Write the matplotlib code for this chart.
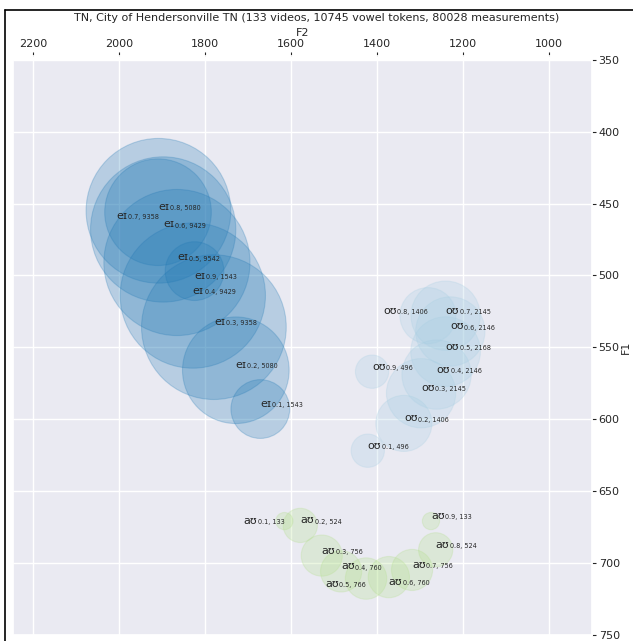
import matplotlib
matplotlib.use("Agg")
import matplotlib.pyplot as plt
import seaborn as sns
from matplotlib.lines import Line2D
from matplotlib.transforms import offset_copy

sns.set_theme(style="darkgrid")
plt.rcParams['font.family'] = ['DejaVu Sans']

# measurement points along the vowel (fraction of duration)
times = [0.1, 0.2, 0.3, 0.4, 0.5, 0.6, 0.7, 0.8, 0.9]

# eɪ
ei_f2 = [1672, 1729, 1780, 1829, 1866, 1898, 1909, 1910, 1825]
ei_f1 = [593, 566, 536, 514, 491, 468, 455, 456, 497]
ei_n = [1543, 5080, 9358, 9429, 9542, 9429, 9358, 5080, 1543]

# oʊ
ou_f2 = [1422, 1338, 1298, 1262, 1241, 1230, 1241, 1282, 1412]
ou_f1 = [622, 603, 582, 569, 553, 539, 528, 528, 567]
ou_n = [496, 1406, 2145, 2146, 2168, 2146, 2145, 1406, 496]

# aʊ
au_f2 = [1616, 1579, 1529, 1484, 1426, 1373, 1319, 1264, 1275]
au_f1 = [671, 674, 695, 706, 711, 710, 705, 691, 671]
au_n = [133, 524, 756, 760, 766, 760, 756, 524, 133]

# label placement (horizontal, vertical alignment) per point
ei_align = [("left", "bottom")] * 6 + [("right", "top"), ("left", "bottom"), ("left", "top")]
ou_align = [("left", "bottom")] * 7 + [("right", "bottom"), ("left", "bottom")]
au_align = [("right", "center"), ("left", "bottom"), ("left", "bottom"), ("left", "bottom"),
            ("right", "top"), ("left", "top"), ("left", "bottom"), ("left", "bottom"),
            ("left", "bottom")]

title = "TN, City of Hendersonville TN (133 videos, 10745 vowel tokens, 80028 measurements)"

series = [
    ("eɪ", ei_f2, ei_f1, ei_n, ei_align, "#1f78b4"),
    ("oʊ", ou_f2, ou_f1, ou_n, ou_align, "#a6cee3"),
    ("aʊ", au_f2, au_f1, au_n, au_align, "#b2df8a"),
]

MAIN_FS = 8
SUB_FS = 4.7
GAP = 0.4  # points between vowel and subscript

fig = plt.figure(figsize=(6.33, 6.41), dpi=100)
ax = fig.add_axes([0.0201, 0.010, 0.9147, 0.8965])
renderer = fig.canvas.get_renderer()

for vowel, f2, f1, n, align, col in series:
    ax.scatter(f2, f1, s=[c * 1.16 for c in n], color=col, alpha=0.25,
               edgecolors=col, linewidths=0.8, zorder=2)
    for x, y, t, c, (ha, va) in zip(f2, f1, times, n, align):
        sub = f"{t}, {c}"
        if ha == "left":
            tr = ax.transData
        else:
            # shift the vowel left by the subscript width so the label ends at the point
            probe = ax.text(0, 0, sub, fontsize=SUB_FS)
            w = probe.get_window_extent(renderer).width * 72 / fig.dpi + GAP
            probe.remove()
            tr = offset_copy(ax.transData, fig=fig, x=-w, y=0, units="points")
        main = ax.text(x, y, vowel, fontsize=MAIN_FS, ha=ha, va=va, transform=tr,
                       color="#262626", zorder=5)
        ax.annotate(sub, xy=(1, 0), xycoords=main, xytext=(GAP, 0.6),
                    textcoords="offset points", ha="left", va="bottom",
                    fontsize=SUB_FS, color="#262626", zorder=5)

ax.set_xlim(2248, 901)
ax.set_ylim(750, 350)
ax.set_xticks([2200, 2000, 1800, 1600, 1400, 1200, 1000])
ax.set_yticks([350, 400, 450, 500, 550, 600, 650, 700, 750])

ax.xaxis.tick_top()
ax.xaxis.set_label_position("top")
ax.yaxis.tick_right()
ax.yaxis.set_label_position("right")
ax.spines["top"].set_position(("outward", 3))
ax.tick_params(axis="both", which="major", length=3, width=0.8, color="#262626",
               labelsize=8, labelcolor="#262626", direction="out", pad=2)
ax.tick_params(axis="x", top=True, bottom=False)
ax.tick_params(axis="y", right=True, left=False)
ax.set_xlabel("F2", fontsize=8, labelpad=2)
ax.set_ylabel("F1", fontsize=8, labelpad=1)
fig.suptitle(title, x=0.5, y=1 - 18 / 641, va="center", fontsize=8, color="#262626")

# frame of the original screenshot
fig.add_artist(Line2D([5 / 633, 1], [1 - 10 / 641, 1 - 10 / 641], color="black", lw=1.2))
fig.add_artist(Line2D([5 / 633, 5 / 633], [0, 1 - 10 / 641], color="black", lw=1.2))

fig.savefig("out.png", dpi=100)
